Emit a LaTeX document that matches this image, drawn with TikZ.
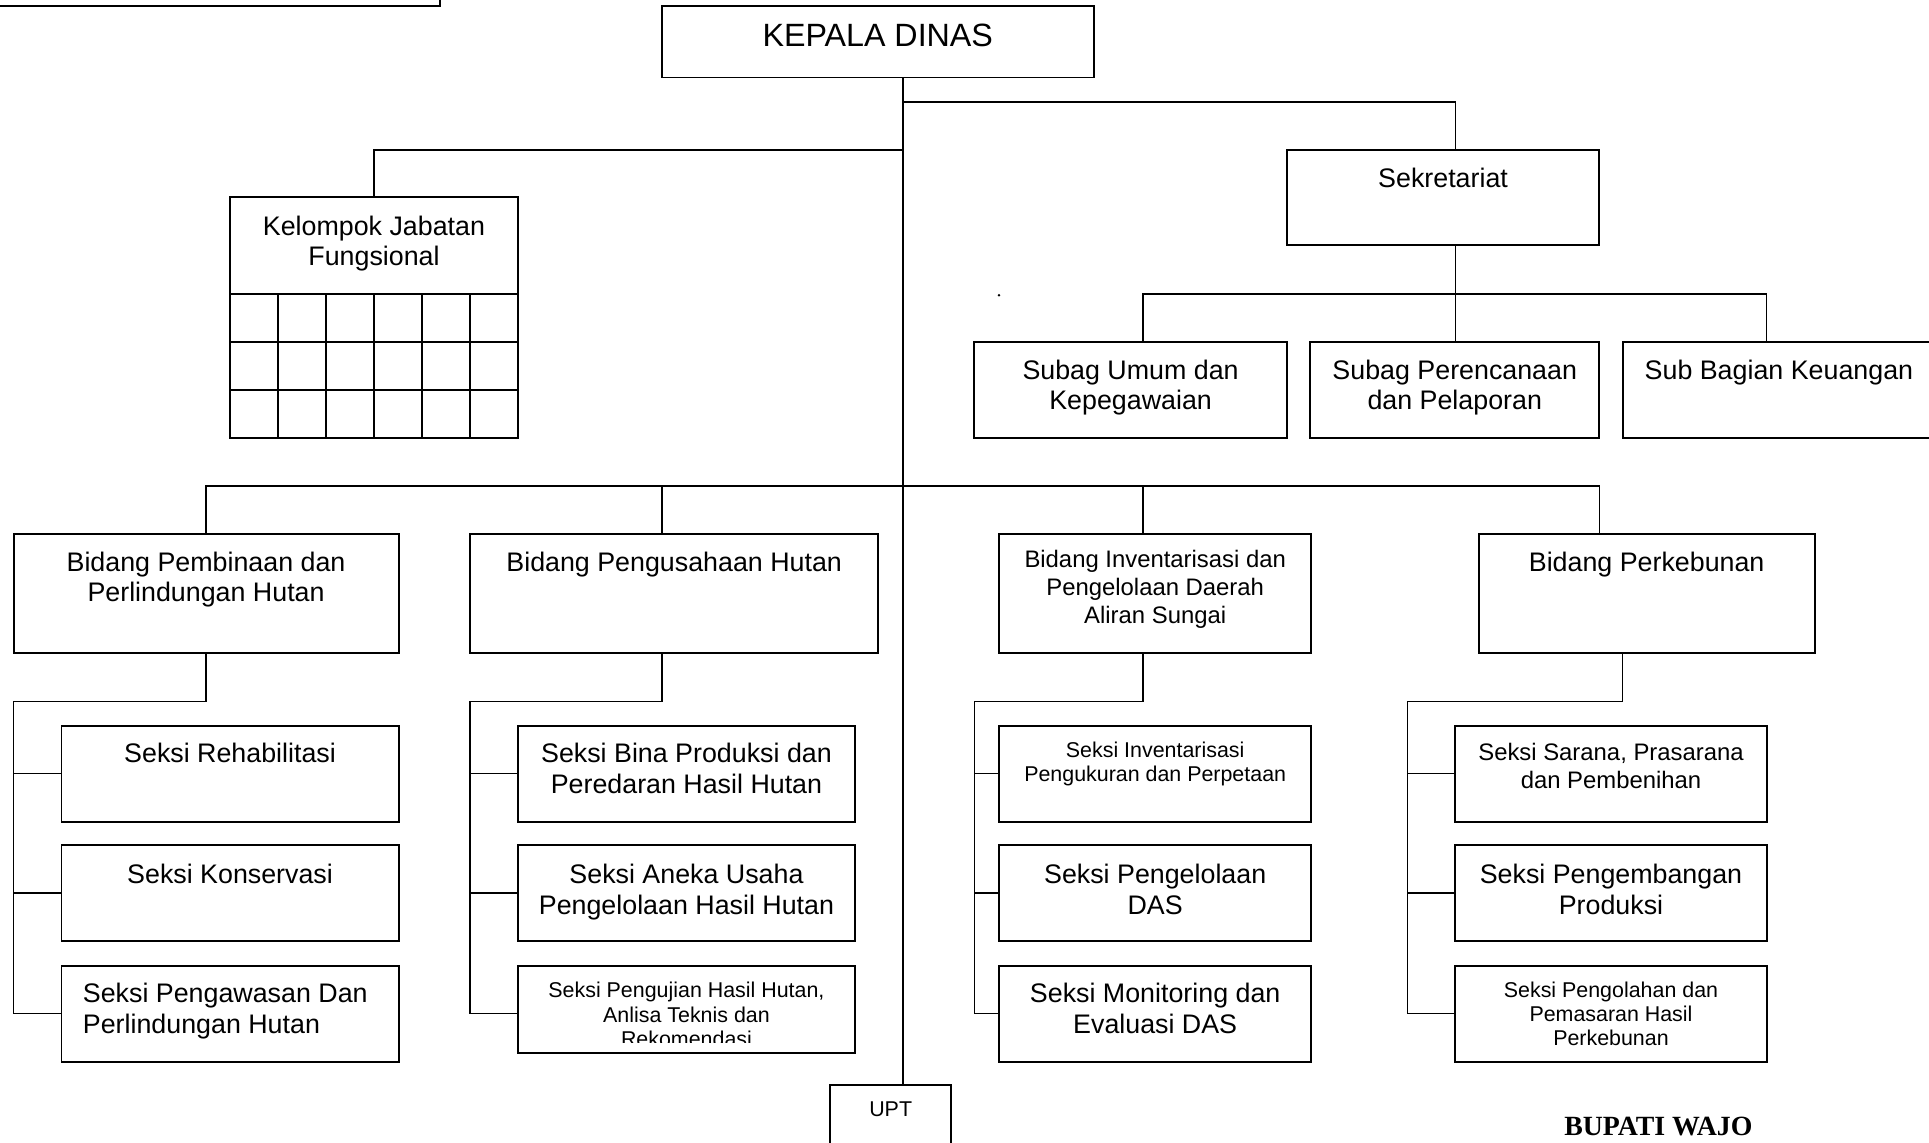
\documentclass[tikz,border=0pt]{standalone}
\usepackage{fontspec}
\setmainfont{Liberation Sans}
\newfontfamily\bupfont{Liberation Serif}
\usetikzlibrary{fit,calc}
\begin{document}
\begin{tikzpicture}[x=0.5pt,y=-0.5pt,
  box/.style={draw, line width=0.8pt, inner sep=0pt},
  conn/.style={line width=0.55pt},
  tL/.style={inner sep=0pt, font=\fontsize{13.1}{15}\selectfont},
  tM/.style={inner sep=0pt, align=center, anchor=north, font=\fontsize{10.9}{12.5}\selectfont},
  tS/.style={inner sep=0pt, align=center, anchor=north, font=\fontsize{9.7}{11.25}\selectfont},
  tX/.style={inner sep=0pt, align=center, anchor=north, font=\fontsize{8.7}{9.9}\selectfont},
]
\useasboundingbox (0,0) rectangle (1568,929);

% ---- boxes ----
\node[box, fit={(-10,-10) (358,5)}] (topbox) {};
\node[box, fit={(538,5) (889,63)}] (kd) {};
\node[box, fit={(1046,122) (1300,199)}] (sek) {};
\node[box, fit={(187,160) (421,239)}] (kjf) {};
\node[box, fit={(187,239) (421,356)}] (kjfg) {};
\foreach \xx in {226,265,304,343,382} \draw[box] (\xx,239) -- (\xx,356);
\foreach \yy in {278,317} \draw[box] (187,\yy) -- (421,\yy);
\node[box, fit={(792,278) (1046,356)}] (su) {};
\node[box, fit={(1065,278) (1300,356)}] (spl) {};
\node[box, fit={(1319,278) (1573,356)}] (sk) {};
\node[box, fit={(11,434) (324,531)}] (b1) {};
\node[box, fit={(382,434) (714,531)}] (b2) {};
\node[box, fit={(812,434) (1066,531)}] (b3) {};
\node[box, fit={(1202,434) (1475,531)}] (b4) {};
\node[box, fit={(50,590) (324,668)}] (s11) {};
\node[box, fit={(50,687) (324,765)}] (s12) {};
\node[box, fit={(50,785) (324,863)}] (s13) {};
\node[box, fit={(421,590) (695,668)}] (s21) {};
\node[box, fit={(421,687) (695,765)}] (s22) {};
\node[box, fit={(421,785) (695,856)}] (s23) {};
\node[box, fit={(812,590) (1066,668)}] (s31) {};
\node[box, fit={(812,687) (1066,765)}] (s32) {};
\node[box, fit={(812,785) (1066,863)}] (s33) {};
\node[box, fit={(1183,590) (1436,668)}] (s41) {};
\node[box, fit={(1183,687) (1436,765)}] (s42) {};
\node[box, fit={(1183,785) (1436,863)}] (s43) {};
\node[box, fit={(675,882) (773,934)}] (upt) {};

% ---- texts ----
\node[tL] (kdT) at (713.5,29) {KEPALA DINAS};
\node[tM] (sekT) at (1173,136) {Sekretariat};
\node[tM] (kjfT) at (304,175) {Kelompok Jabatan\\Fungsional};
\node[tM] (suT) at (919,292) {Subag Umum dan\\Kepegawaian};
\node[tM] (splT) at (1182.5,292) {Subag Perencanaan\\dan Pelaporan};
\node[tM] (skT) at (1446,292) {Sub Bagian Keuangan};
\node[tM] (b1T) at (167.5,448) {Bidang Pembinaan dan\\Perlindungan Hutan};
\node[tM] (b2T) at (548,448) {Bidang Pengusahaan Hutan};
\node[tS] (b3T) at (939,447) {Bidang Inventarisasi dan\\Pengelolaan Daerah\\Aliran Sungai};
\node[tM] (b4T) at (1338.5,448) {Bidang Perkebunan};
\node[tM] (s11T) at (187,604) {Seksi Rehabilitasi};
\node[tM] (s12T) at (187,702) {Seksi Konservasi};
\node[tM, anchor=north west, align=left] (s13T) at (67,799) {Seksi Pengawasan Dan\\Perlindungan Hutan};
\node[tM] (s21T) at (558,604) {Seksi Bina Produksi dan\\Peredaran Hasil Hutan};
\node[tM] (s22T) at (558,702) {Seksi Aneka Usaha\\Pengelolaan Hasil Hutan};
\begin{scope}
\clip (421,785) rectangle (695,847);
\node[tX] (s23T) at (558,798) {Seksi Pengujian Hasil Hutan,\\Anlisa Teknis dan\\Rekomendasi};
\end{scope}
\node[tX] (s31T) at (939,602.5) {Seksi Inventarisasi\\Pengukuran dan Perpetaan};
\node[tM] (s32T) at (939,702) {Seksi Pengelolaan\\DAS};
\node[tM] (s33T) at (939,799) {Seksi Monitoring dan\\Evaluasi DAS};
\node[tS] (s41T) at (1309.5,604) {Seksi Sarana, Prasarana\\dan Pembenihan};
\node[tM] (s42T) at (1309.5,702) {Seksi Pengembangan\\Produksi};
\node[tX] (s43T) at (1309.5,797.5) {Seksi Pengolahan dan\\Pemasaran Hasil\\Perkebunan};
\node[inner sep=0pt, font=\fontsize{8.7}{10}\selectfont] (uptT) at (724,902) {UPT};
\node[inner sep=0pt, font=\bupfont\bfseries\fontsize{11.3}{13}\selectfont] (bup) at (1348,916) {BUPATI WAJO};
\node[circle, fill, inner sep=0pt, minimum size=1.1pt] (dot) at (812,240) {};

% ---- connectors ----
\coordinate (tr) at (734,63);
\coordinate (j1) at (734,83);
\coordinate (j2) at (734,122);
\coordinate (j3) at (1183,239);
\coordinate (j4) at (734,395);
\draw[conn] (kd.south -| tr) -- (upt.north -| tr);
\draw[conn] (j1) -| ($(sek.north)+(10,0)$);
\draw[conn] (j2) -| (kjf.north);
\draw[conn] ($(sek.south)+(10,0)$) -- (j3);
\draw[conn] ($(su.north)+(10,0)$) |- (j3) -| ($(sk.north)+(-10,0)$);
\draw[conn] (j3) -- (j3 |- spl.north);
\draw[conn] (b1.north) |- (j4) -| ($(b4.north)+(-38.5,0)$);
\draw[conn] ($(b2.north)+(-10,0)$) -- +(0,-39);
\draw[conn] ($(b3.north)+(-10,0)$) -- +(0,-39);

% group spines
\coordinate (g1) at (11,570);   \coordinate (e1) at (11,824);
\coordinate (g2) at (382,570);  \coordinate (e2) at (382,824);
\coordinate (g3) at (792,570);  \coordinate (e3) at (792,824);
\coordinate (g4) at (1144,570); \coordinate (e4) at (1144,824);

\draw[conn] (b1.south) |- (g1) -- (e1) -- (e1 -| s13.west);
\draw[conn] (g1 |- s11.west) -- (s11.west);
\draw[conn] (g1 |- s12.west) -- (s12.west);

\draw[conn] ($(b2.south)+(-10,0)$) |- (g2) -- (e2) -- (e2 -| s23.west);
\draw[conn] (g2 |- s21.west) -- (s21.west);
\draw[conn] (g2 |- s22.west) -- (s22.west);

\draw[conn] ($(b3.south)+(-10,0)$) |- (g3) -- (e3) -- (e3 -| s33.west);
\draw[conn] (g3 |- s31.west) -- (s31.west);
\draw[conn] (g3 |- s32.west) -- (s32.west);

\draw[conn] ($(b4.south)+(-19.5,0)$) |- (g4) -- (e4) -- (e4 -| s43.west);
\draw[conn] (g4 |- s41.west) -- (s41.west);
\draw[conn] (g4 |- s42.west) -- (s42.west);
\end{tikzpicture}
\end{document}
